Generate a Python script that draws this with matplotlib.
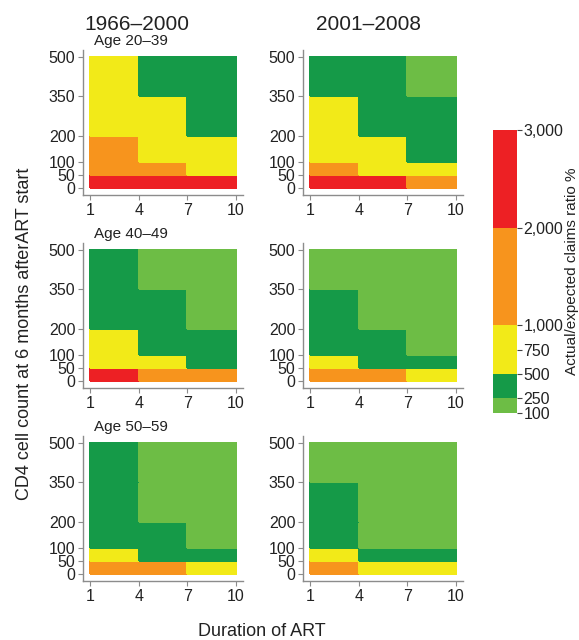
import numpy as np
import matplotlib
matplotlib.use("Agg")
import matplotlib.pyplot as plt
from matplotlib.colors import ListedColormap, BoundaryNorm

plt.rcParams['font.family'] = ['Liberation Sans', 'DejaVu Sans']

# bin edges
duration_edges = [1, 4, 7, 10]
cd4_edges = [0, 50, 100, 200, 350, 500]
duration_ticks = [1, 4, 7, 10]
cd4_ticks = [0, 50, 100, 200, 350, 500]

periods = ["1966\u20132000", "2001\u20132008"]
ages = ["Age 20\u201339", "Age 40\u201349", "Age 50\u201359"]

# actual/expected claims ratio %, rows = CD4 bins (low -> high), cols = duration bins
age20_39_early = [[2500, 2400, 2300],
                  [1400, 1300, 800],
                  [1300, 800, 750],
                  [750, 760, 400],
                  [740, 400, 380]]
age20_39_late = [[2400, 2300, 1400],
                 [1200, 780, 760],
                 [770, 760, 400],
                 [750, 400, 380],
                 [400, 380, 200]]
age40_49_early = [[2300, 1300, 1200],
                  [780, 760, 400],
                  [750, 400, 380],
                  [400, 380, 200],
                  [380, 200, 180]]
age40_49_late = [[1300, 1200, 760],
                 [750, 400, 380],
                 [400, 380, 200],
                 [380, 200, 190],
                 [200, 190, 180]]
age50_59_early = [[1300, 1200, 760],
                  [750, 400, 380],
                  [400, 380, 200],
                  [380, 200, 190],
                  [380, 200, 180]]
age50_59_late = [[1200, 770, 760],
                 [750, 400, 380],
                 [400, 200, 190],
                 [380, 200, 180],
                 [200, 190, 180]]

panels = [[age20_39_early, age20_39_late],
          [age40_49_early, age40_49_late],
          [age50_59_early, age50_59_late]]

levels = [100, 250, 500, 1000, 2000, 3000]
colors = ['#6dbd45', '#159a48', '#f2ea18', '#f7941d', '#ed2024']
cbar_ticks = [100, 250, 500, 750, 1000, 2000, 3000]

cmap = ListedColormap(colors)
norm = BoundaryNorm(levels, cmap.N)

fig = plt.figure(figsize=(5.79, 6.4), dpi=100)

lefts = [0.1434, 0.5233]
bottoms = [0.6953, 0.3938, 0.0922]
w, h = 0.2763, 0.2266
spine_col = '#8c8c8c'
txt_col = '#222222'

mesh = None
for r in range(3):
    for c in range(2):
        ax = fig.add_axes([lefts[c], bottoms[r], w, h])
        mesh = ax.pcolormesh(duration_edges, cd4_edges, np.array(panels[r][c]),
                             cmap=cmap, norm=norm, edgecolors='face', linewidth=0.3)
        ax.set_xlim(0.57, 10.43)
        ax.set_ylim(-27, 527)
        ax.set_xticks(duration_ticks)
        ax.set_yticks(cd4_ticks)
        for s in ['top', 'right']:
            ax.spines[s].set_visible(False)
        for s in ['left', 'bottom']:
            ax.spines[s].set_color(spine_col)
            ax.spines[s].set_linewidth(1.0)
        ax.tick_params(direction='out', length=3.5, width=0.8, color=spine_col,
                       labelsize=11.5, labelcolor=txt_col, pad=2)
        if c == 0:
            ax.text(0.07, 1.015, ages[r], transform=ax.transAxes, fontsize=11,
                    color=txt_col, ha='left', va='bottom')

fig.text(84 / 579, 1 - 30 / 640, periods[0], fontsize=15, color=txt_col,
         ha='left', va='baseline')
fig.text(316 / 579, 1 - 30 / 640, periods[1], fontsize=15, color=txt_col,
         ha='left', va='baseline')

fig.text(0.043, 0.478, "CD4 cell count at 6 months afterART start", rotation=90,
         fontsize=13, color=txt_col, ha='center', va='center')
fig.text(0.453, 0.006, "Duration of ART", fontsize=13, color=txt_col,
         ha='center', va='baseline')

cax = fig.add_axes([0.8515, 0.3547, 0.0415, 0.4422])
cb = fig.colorbar(mesh, cax=cax, boundaries=levels, spacing='proportional',
                  ticks=cbar_ticks)
cb.ax.set_yticklabels([f"{t:,}" for t in cbar_ticks])
cb.outline.set_visible(False)
cb.ax.tick_params(direction='out', length=3.5, width=0.8, color='#444444',
                  labelsize=11.5, labelcolor=txt_col, pad=1)
cb.set_label("Actual/expected claims ratio %", fontsize=11, color=txt_col,
             labelpad=1)

fig.savefig("out.png", dpi=100)
